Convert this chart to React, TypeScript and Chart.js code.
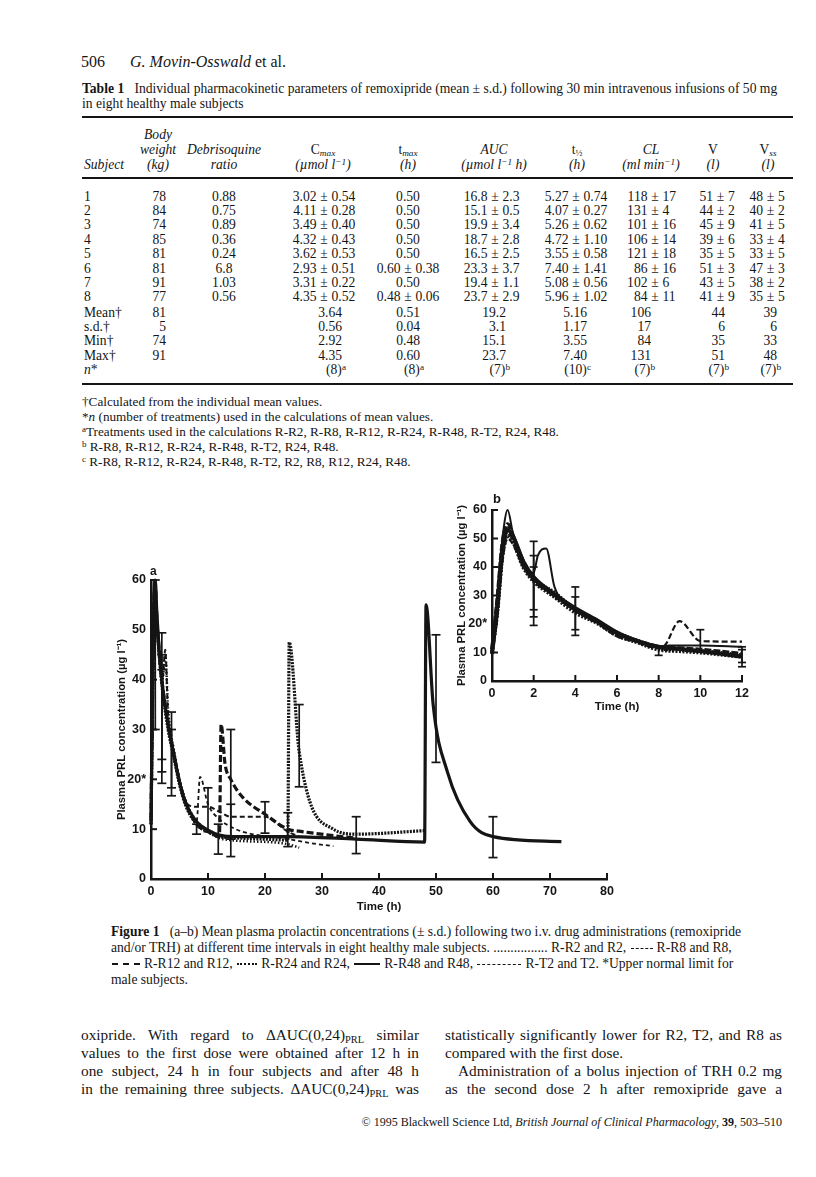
import React, { useEffect, useRef } from "react";
import { Chart, registerables } from "chart.js";

Chart.register(...registerables);

const SERIF = '"Liberation Serif", "Times New Roman", Times, serif';
const SANS = '"Liberation Sans", Arial, Helvetica, sans-serif';
const INK = "#151515";

// ================= Figure 1a (0–72 h) =================
const A_Y_TICKS = [0, 10, 20, 30, 40, 50, 60];
const A_Y_LABELS = ["0", "10", "20*", "30", "40", "50", "60"];
const A_X_TICKS = [0, 10, 20, 30, 40, 50, 60, 70, 80];

const A_R2_T = [0, 0.25, 0.5, 0.75, 1, 1.5, 2, 2.5, 3, 4, 5, 6, 8, 10, 12, 14, 24, 26];
const A_R2_Y = [11, 32, 52, 57, 52, 44, 40, 45, 34, 26, 20, 16, 11.5, 9.5, 8.2, 7.8, 7.0, 6.3];

const A_R8_T = [0, 0.25, 0.5, 0.75, 1, 1.5, 2, 3, 4, 5, 6, 8, 8.6, 10, 12, 14, 16, 24, 28, 32];
const A_R8_Y = [10, 30, 50, 55, 50, 43, 38, 31, 26, 20, 16, 11.5, 20.5, 15, 12, 10.5, 9.5, 8, 7.2, 6.6];

const A_R12_T = [0, 0.25, 0.5, 0.75, 1, 1.5, 2, 3, 4, 5, 6, 8, 10, 12, 12.3, 13, 14, 16, 20, 24, 26, 32, 36];
const A_R12_Y = [12, 35, 55, 59, 53, 45, 39, 31, 25, 19.5, 15.5, 11, 9.5, 8.5, 31, 23, 20, 16.5, 13, 10, 9.6, 8.7, 8.2];

const A_R24_T = [0, 0.25, 0.5, 0.75, 1, 1.5, 2, 3, 4, 5, 6, 8, 10, 12, 14, 20, 24, 24.25, 26, 32, 36, 48];
const A_R24_Y = [11, 33, 53, 58, 52, 44, 38, 30, 24.5, 19, 15, 11, 9.5, 8.5, 8.3, 8, 7.8, 47.5, 25.5, 10, 9, 9.7];

const A_R48_T = [0, 0.25, 0.5, 0.75, 1, 1.5, 2, 3, 4, 5, 6, 8, 10, 12, 14, 24, 36, 48, 48.25, 49.5, 52, 56, 60, 72];
const A_R48_Y = [11, 36, 56, 60, 54, 45, 39, 31, 25, 19.5, 15.5, 11.5, 9.8, 8.8, 8.5, 8.5, 8, 7.4, 55, 35, 21.5, 11.5, 8.5, 7.5];

const A_T2_T = [0, 0.25, 0.5, 0.75, 1, 1.5, 2, 2.5, 3, 4, 5, 6, 8, 10, 12, 14, 20, 24, 26];
const A_T2_Y = [10, 31, 51, 56, 51, 44, 40, 46, 33, 25.5, 20, 15.5, 14.5, 14.5, 13.5, 12.5, 12.5, 9.5, 8.5];

const A_ERR_X = [0.75, 1.9, 1.9, 1.9, 3.6, 3.6, 8, 10, 11.8, 14, 14, 20, 24, 26, 36, 50, 60];
const A_ERR_LO = [30, 19.2, 21.5, 24, 16.7, 18.3, 9, 9.5, 5, 4.5, 8, 9.2, 6.5, 18.5, 5.1, 23.4, 4.3];
const A_ERR_HI = [60, 49.4, 45, 42, 33.5, 30, 11, 18.3, 11, 30, 15, 15.5, 13.3, 35, 12.5, 49, 12.5];

// ================= Figure 1b inset (0–12 h) =================
const B_Y_TICKS = [0, 10, 20, 30, 40, 50, 60];
const B_Y_LABELS = ["0", "10", "20*", "30", "40", "50", "60"];
const B_X_TICKS = [0, 2, 4, 6, 8, 10, 12];

const B_T = [0, 0.25, 0.5, 0.75, 1, 1.5, 2, 3, 4, 5, 6, 7, 8, 9, 10, 12];
const B_R2_Y = [10, 25, 45, 52, 50, 42, 36, 31, 25, 21, 17, 14, 11.5, 11, 10.5, 9];
const B_R12_Y = [11, 28, 48, 55, 51, 41, 36, 30, 25, 21, 16, 14, 12, 11.5, 11, 9.5];
const B_R24_Y = [10, 24, 44, 51, 49, 40, 35, 29.5, 24, 20.5, 16, 13.5, 11, 10.5, 10, 8.5];
const B_R48_Y = [9.5, 26, 46, 53, 51, 42, 36.5, 30.5, 25.5, 21.5, 17, 14, 12, 11.2, 10.5, 8.5];

const B_R8_T = [0, 0.25, 0.5, 0.75, 1, 1.5, 2, 3, 4, 5, 6, 7, 8, 8.3, 9, 10, 12];
const B_R8_Y = [10, 22, 42, 50, 48, 40, 35, 30, 24.5, 20.5, 16.5, 13.5, 11.5, 12.5, 21, 14, 13.8];

const B_T2_T = [0, 0.25, 0.5, 0.75, 1, 1.5, 2, 2.2, 2.6, 3, 4, 5, 6, 7, 8, 8.5, 10, 12];
const B_T2_Y = [10, 30, 50, 60, 52, 40, 38, 44, 46.5, 33, 25, 21, 16.5, 14, 12, 12.5, 12.5, 12];

const B_ERR_X = [2, 2, 2, 4, 4, 8, 10, 12, 12];
const B_ERR_LO = [19.5, 22.5, 25, 16, 18, 9, 10.5, 5, 6.5];
const B_ERR_HI = [49, 44, 40, 33, 29.5, 12, 18, 12, 11];

type Series = { t: number[]; y: number[]; width: number; dash: number[] };

const A_SERIES: Series[] = [
  { t: A_R2_T, y: A_R2_Y, width: 2.5, dash: [1.5, 2] },
  { t: A_R8_T, y: A_R8_Y, width: 1.8, dash: [4, 3] },
  { t: A_R12_T, y: A_R12_Y, width: 3.2, dash: [7, 3] },
  { t: A_R24_T, y: A_R24_Y, width: 3.2, dash: [2, 1.2] },
  { t: A_R48_T, y: A_R48_Y, width: 3.2, dash: [] },
  { t: A_T2_T, y: A_T2_Y, width: 2, dash: [5, 3] },
];

const B_SERIES: Series[] = [
  { t: B_T, y: B_R2_Y, width: 4, dash: [1.5, 1.5] },
  { t: B_R8_T, y: B_R8_Y, width: 2.2, dash: [6, 3] },
  { t: B_T, y: B_R12_Y, width: 4, dash: [7, 2] },
  { t: B_T, y: B_R24_Y, width: 4, dash: [2, 1.5] },
  { t: B_T, y: B_R48_Y, width: 4, dash: [] },
  { t: B_T2_T, y: B_T2_Y, width: 2, dash: [] },
];

const innerTicks = {
  id: "innerTicks",
  afterDraw(chart: any) {
    const { ctx, chartArea, scales } = chart;
    ctx.save();
    ctx.strokeStyle = INK;
    ctx.lineWidth = 2;
    scales.x.ticks.forEach((t: any) => {
      const px = scales.x.getPixelForValue(t.value);
      ctx.beginPath();
      ctx.moveTo(px, chartArea.bottom);
      ctx.lineTo(px, chartArea.bottom - 6);
      ctx.stroke();
    });
    scales.y.ticks.forEach((t: any) => {
      const py = scales.y.getPixelForValue(t.value);
      ctx.beginPath();
      ctx.moveTo(chartArea.left, py);
      ctx.lineTo(chartArea.left + 6, py);
      ctx.stroke();
    });
    ctx.restore();
  },
};

function buildConfig(p: {
  series: Series[];
  errX: number[];
  errLo: number[];
  errHi: number[];
  xTicks: number[];
  yTicks: number[];
  yLabels: string[];
  padTop: number;
  padRight: number;
  yWidth: number;
  xHeight: number;
  capR: number;
}) {
  const tickFont = { family: SANS, size: 12.5, weight: "bold" as const };
  const titleFont = { family: SANS, size: 11.3, weight: "bold" as const };
  const datasets: any[] = [];
  p.series.forEach((s) => {
    datasets.push({
      data: s.t.map((t, i) => ({ x: t, y: s.y[i] })),
      borderColor: INK,
      borderWidth: s.width,
      borderDash: s.dash,
      pointRadius: 0,
      fill: false,
      cubicInterpolationMode: "monotone",
      clip: 4,
    });
  });
  p.errX.forEach((x, i) => {
    datasets.push({
      data: [
        { x, y: p.errLo[i] },
        { x, y: p.errHi[i] },
      ],
      borderColor: INK,
      borderWidth: 1.7,
      pointStyle: "line",
      pointRadius: p.capR,
      pointBorderWidth: 1.7,
      pointBorderColor: INK,
      pointBackgroundColor: INK,
      fill: false,
      clip: 6,
    });
  });
  const xMax = p.xTicks[p.xTicks.length - 1];
  const yMax = p.yTicks[p.yTicks.length - 1];
  return {
    type: "line" as const,
    data: { datasets },
    options: {
      responsive: false,
      animation: false as const,
      layout: { padding: { top: p.padTop, right: p.padRight, left: 0, bottom: 0 } },
      plugins: { legend: { display: false }, tooltip: { enabled: false } },
      scales: {
        x: {
          type: "linear" as const,
          min: 0,
          max: xMax,
          afterBuildTicks: (s: any) => {
            s.ticks = p.xTicks.map((v) => ({ value: v }));
          },
          ticks: { padding: 5, font: tickFont, color: INK, maxRotation: 0 },
          grid: { display: false, drawTicks: false },
          border: { display: true, width: 2.5, color: INK },
          title: { display: true, text: "Time (h)", font: { ...titleFont, size: 11.5 }, color: INK, padding: { top: 0, bottom: 4 } },
          afterFit: (s: any) => {
            s.height = p.xHeight;
          },
        },
        y: {
          type: "linear" as const,
          min: 0,
          max: yMax,
          afterBuildTicks: (s: any) => {
            s.ticks = p.yTicks.map((v) => ({ value: v }));
          },
          ticks: {
            padding: 5,
            font: tickFont,
            color: INK,
            callback: (v: any) => {
              const k = p.yTicks.indexOf(Number(v));
              return k >= 0 ? p.yLabels[k] : String(v);
            },
          },
          grid: { display: false, drawTicks: false },
          border: { display: true, width: 2.5, color: INK },
          title: {
            display: true,
            text: "Plasma PRL concentration (\u00b5g l\u207b\u00b9)",
            font: titleFont,
            color: INK,
            padding: { top: 3, bottom: 0 },
          },
          afterFit: (s: any) => {
            s.width = p.yWidth;
          },
        },
      },
    },
    plugins: [innerTicks],
  };
}

function ChartA() {
  const ref = useRef<HTMLCanvasElement>(null);
  useEffect(() => {
    const chart = new Chart(
      ref.current as HTMLCanvasElement,
      buildConfig({
        series: A_SERIES,
        errX: A_ERR_X,
        errLo: A_ERR_LO,
        errHi: A_ERR_HI,
        xTicks: A_X_TICKS,
        yTicks: A_Y_TICKS,
        yLabels: A_Y_LABELS,
        padTop: 14,
        padRight: 15,
        yWidth: 39,
        xHeight: 39,
        capR: 4.5,
      }) as any
    );
    return () => chart.destroy();
  }, []);
  return (
    <canvas
      ref={ref}
      width={510}
      height={352}
      style={{ position: "absolute", left: 112, top: 566, width: 510, height: 352 }}
    />
  );
}

function ChartB() {
  const ref = useRef<HTMLCanvasElement>(null);
  useEffect(() => {
    const chart = new Chart(
      ref.current as HTMLCanvasElement,
      buildConfig({
        series: B_SERIES,
        errX: B_ERR_X,
        errLo: B_ERR_LO,
        errHi: B_ERR_HI,
        xTicks: B_X_TICKS,
        yTicks: B_Y_TICKS,
        yLabels: B_Y_LABELS,
        padTop: 18,
        padRight: 15,
        yWidth: 40,
        xHeight: 37,
        capR: 4,
      }) as any
    );
    return () => chart.destroy();
  }, []);
  return (
    <canvas
      ref={ref}
      width={305}
      height={226}
      style={{ position: "absolute", left: 452, top: 492, width: 305, height: 226 }}
    />
  );
}

// ================= page text helpers =================
function T(props: {
  x: number;
  y: number;
  size?: number;
  a?: "l" | "c" | "r";
  w?: number;
  style?: React.CSSProperties;
  children: React.ReactNode;
}) {
  const size = props.size ?? 13;
  const a = props.a ?? "l";
  const w = props.w ?? 300;
  const left = a === "l" ? props.x : a === "c" ? props.x - w / 2 : props.x - w;
  return (
    <div
      style={{
        position: "absolute",
        left,
        top: props.y - size * 0.62,
        width: w,
        fontSize: size,
        lineHeight: `${size * 1.2}px`,
        textAlign: a === "l" ? "left" : a === "c" ? "center" : "right",
        whiteSpace: "nowrap",
        ...props.style,
      }}
    >
      {props.children}
    </div>
  );
}

function J(props: { x: number; y: number; w: number; size: number; last?: boolean; indent?: number; children: React.ReactNode }) {
  return (
    <div
      style={{
        position: "absolute",
        left: props.x,
        top: props.y - props.size * 0.62,
        width: props.w,
        fontSize: props.size,
        lineHeight: `${props.size * 1.2}px`,
        textAlign: "justify",
        textAlignLast: props.last === false ? "left" : "justify",
        textIndent: props.indent ?? 0,
      }}
    >
      {props.children}
    </div>
  );
}

const Sub = ({ children, it }: { children: React.ReactNode; it?: boolean }) => (
  <sub style={{ fontSize: "0.68em", fontStyle: it ? "italic" : "normal", verticalAlign: "-0.25em", lineHeight: 0 }}>{children}</sub>
);
const Sup = ({ children }: { children: React.ReactNode }) => (
  <sup style={{ fontSize: "0.68em", verticalAlign: "0.45em", lineHeight: 0 }}>{children}</sup>
);

// ================= Table 1 =================
const TABLE_ROWS = [
  ["1", "78", "0.88", "3.02 ± 0.54", "0.50", "16.8 ± 2.3", "5.27 ± 0.74", "118 ± 17", "51 ± 7", "48 ± 5"],
  ["2", "84", "0.75", "4.11 ± 0.28", "0.50", "15.1 ± 0.5", "4.07 ± 0.27", "131 ± 4", "44 ± 2", "40 ± 2"],
  ["3", "74", "0.89", "3.49 ± 0.40", "0.50", "19.9 ± 3.4", "5.26 ± 0.62", "101 ± 16", "45 ± 9", "41 ± 5"],
  ["4", "85", "0.36", "4.32 ± 0.43", "0.50", "18.7 ± 2.8", "4.72 ± 1.10", "106 ± 14", "39 ± 6", "33 ± 4"],
  ["5", "81", "0.24", "3.62 ± 0.53", "0.50", "16.5 ± 2.5", "3.55 ± 0.58", "121 ± 18", "35 ± 5", "33 ± 5"],
  ["6", "81", "6.8", "2.93 ± 0.51", "0.60 ± 0.38", "23.3 ± 3.7", "7.40 ± 1.41", "86 ± 16", "51 ± 3", "47 ± 3"],
  ["7", "91", "1.03", "3.31 ± 0.22", "0.50", "19.4 ± 1.1", "5.08 ± 0.56", "102 ± 6", "43 ± 5", "38 ± 2"],
  ["8", "77", "0.56", "4.35 ± 0.52", "0.48 ± 0.06", "23.7 ± 2.9", "5.96 ± 1.02", "84 ± 11", "41 ± 9", "35 ± 5"],
];
const SUMMARY_LABELS = ["Mean†", "s.d.†", "Min†", "Max†"];
const SUMMARY_ROWS = [
  ["81", "", "3.64", "0.51", "19.2", "5.16", "106", "44", "39"],
  ["5", "", "0.56", "0.04", "3.1", "1.17", "17", "6", "6"],
  ["74", "", "2.92", "0.48", "15.1", "3.55", "84", "35", "33"],
  ["91", "", "4.35", "0.60", "23.7", "7.40", "131", "51", "48"],
];
const N_ROW: [string, string][] = [
  ["", ""],
  ["", ""],
  ["(8)", "a"],
  ["(8)", "a"],
  ["(7)", "b"],
  ["(10)", "c"],
  ["(7)", "b"],
  ["(7)", "b"],
  ["(7)", "b"],
];

const COL_X = [84, 166, 224, 324, 408, 495, 576, 655, 720.5, 770.5];
const COL_A: ("l" | "r" | "c")[] = ["l", "r", "c", "c", "c", "c", "c", "c", "c", "c"];
const SUM_RIGHT = [166, 0, 342, 420, 506, 587, 651, 725, 777];

const ROW_Y0 = 197;
const ROW_DY = 14.4;
const SUM_Y0 = 313;
const TS = 13.6; // table font size

function DataCell({ v, col, y }: { v: string; col: number; y: number }) {
  const x = COL_X[col];
  if (v.includes("±")) {
    const [l, r] = v.split("±").map((s) => s.trim());
    return (
      <>
        <T x={x - 7.5} y={y} a="r" w={60} size={TS}>
          {l}
        </T>
        <T x={x} y={y} a="c" w={20} size={TS}>
          ±
        </T>
        <T x={x + 7.5} y={y} a="l" w={60} size={TS}>
          {r}
        </T>
      </>
    );
  }
  return (
    <T x={x} y={y} a={COL_A[col]} w={80} size={TS}>
      {v}
    </T>
  );
}

function Table1() {
  const it: React.CSSProperties = { fontStyle: "italic" };
  const hy1 = 135;
  const hy2 = 150;
  const hy3 = 165;
  const rule = (y: number, h: number) => (
    <div style={{ position: "absolute", left: 82, width: 711, top: y, height: h, background: INK }} />
  );
  return (
    <>
      {rule(116, 2)}
      <T x={158} y={hy1} a="c" w={80} size={TS} style={it}>Body</T>
      <T x={158} y={hy2} a="c" w={80} size={TS} style={it}>weight</T>
      <T x={224} y={hy2} a="c" w={100} size={TS} style={it}>Debrisoquine</T>
      <T x={323} y={hy2} a="c" w={100} size={TS}>C<Sub it>max</Sub></T>
      <T x={408} y={hy2} a="c" w={80} size={TS}>t<Sub it>max</Sub></T>
      <T x={494} y={hy2} a="c" w={100} size={TS} style={it}>AUC</T>
      <T x={577} y={hy2} a="c" w={80} size={TS}>t<Sub>½</Sub></T>
      <T x={651} y={hy2} a="c" w={100} size={TS} style={it}>CL</T>
      <T x={713} y={hy2} a="c" w={60} size={TS}>V</T>
      <T x={768} y={hy2} a="c" w={60} size={TS}>V<Sub it>ss</Sub></T>

      <T x={84} y={hy3} size={TS} style={it}>Subject</T>
      <T x={158} y={hy3} a="c" w={80} size={TS} style={it}>(kg)</T>
      <T x={224} y={hy3} a="c" w={100} size={TS} style={it}>ratio</T>
      <T x={323} y={hy3} a="c" w={100} size={TS} style={it}>(µmol l<Sup>−1</Sup>)</T>
      <T x={408} y={hy3} a="c" w={80} size={TS} style={it}>(h)</T>
      <T x={494} y={hy3} a="c" w={120} size={TS} style={it}>(µmol l<Sup>−1</Sup> h)</T>
      <T x={577} y={hy3} a="c" w={80} size={TS} style={it}>(h)</T>
      <T x={651} y={hy3} a="c" w={120} size={TS} style={it}>(ml min<Sup>−1</Sup>)</T>
      <T x={713} y={hy3} a="c" w={60} size={TS} style={it}>(l)</T>
      <T x={768} y={hy3} a="c" w={60} size={TS} style={it}>(l)</T>
      {rule(177, 2)}

      {TABLE_ROWS.map((row, r) => (
        <React.Fragment key={r}>
          {row.map((v, c) => (
            <DataCell key={c} v={v} col={c} y={ROW_Y0 + r * ROW_DY} />
          ))}
        </React.Fragment>
      ))}

      {SUMMARY_ROWS.map((row, r) => {
        const y = SUM_Y0 + r * ROW_DY;
        return (
          <React.Fragment key={"s" + r}>
            <T x={84} y={y} size={TS}>{SUMMARY_LABELS[r]}</T>
            {row.map((v, c) =>
              v ? (
                <T key={c} x={SUM_RIGHT[c]} y={y} a="r" w={60} size={TS}>
                  {v}
                </T>
              ) : null
            )}
          </React.Fragment>
        );
      })}
      {(() => {
        const y = SUM_Y0 + 4 * ROW_DY;
        return (
          <>
            <T x={84} y={y} size={TS}>
              <i>n</i>*
            </T>
            {N_ROW.map(([v, s], c) =>
              v ? (
                <T key={c} x={SUM_RIGHT[c] + 4} y={y} a="r" w={60} size={TS}>
                  {v}
                  <Sup>{s}</Sup>
                </T>
              ) : null
            )}
          </>
        );
      })()}
      {rule(383, 2)}
    </>
  );
}

const Line = ({ w, b, s }: { w: number; b: number; s: string }) => (
  <span
    style={{
      display: "inline-block",
      width: w,
      height: 0,
      borderTop: `${b}px ${s} ${INK}`,
      verticalAlign: "middle",
      margin: "0 4px 0 1px",
    }}
  />
);

export default function App() {
  const FS = 13.2; // footnote size
  const CS = 13.6; // caption size
  const BS = 15.3; // body size
  return (
    <div
      style={{
        position: "absolute",
        left: 0,
        top: 0,
        width: 816,
        height: 1177,
        background: "#fff",
        overflow: "hidden",
        fontFamily: SERIF,
        color: INK,
      }}
    >
      {/* running head */}
      <T x={81} y={62} size={16}>506</T>
      <T x={130} y={62} size={16}>
        <i>G. Movin-Osswald</i> et al.
      </T>

      {/* table caption */}
      <T x={82} y={89} size={CS} w={720}>
        <b>Table 1</b>&nbsp;&nbsp;&nbsp;Individual pharmacokinetic parameters of remoxipride (mean ± s.d.) following 30 min intravenous infusions of 50 mg
      </T>
      <T x={82} y={104} size={CS} w={720}>
        in eight healthy male subjects
      </T>

      <Table1 />

      {/* footnotes */}
      <T x={82} y={402} size={FS} w={700}>†Calculated from the individual mean values.</T>
      <T x={82} y={417} size={FS} w={700}>
        *<i>n</i> (number of treatments) used in the calculations of mean values.
      </T>
      <T x={82} y={432} size={FS} w={700}>
        <Sup>a</Sup>Treatments used in the calculations R-R2, R-R8, R-R12, R-R24, R-R48, R-T2, R24, R48.
      </T>
      <T x={82} y={447} size={FS} w={700}>
        <Sup>b</Sup> R-R8, R-R12, R-R24, R-R48, R-T2, R24, R48.
      </T>
      <T x={82} y={462} size={FS} w={700}>
        <Sup>c</Sup> R-R8, R-R12, R-R24, R-R48, R-T2, R2, R8, R12, R24, R48.
      </T>

      {/* figure */}
      <ChartA />
      <ChartB />
      <T x={150} y={571} size={12} style={{ fontFamily: SANS, fontWeight: "bold" }}>a</T>
      <T x={493} y={499} size={13} style={{ fontFamily: SANS, fontWeight: "bold" }}>b</T>

      {/* figure caption */}
      <T x={111} y={932} size={CS} w={700}>
        <b>Figure 1</b>&nbsp;&nbsp;&nbsp;(a–b) Mean plasma prolactin concentrations (± s.d.) following two i.v. drug administrations (remoxipride
      </T>
      <T x={111} y={948} size={CS} w={700}>
        and/or TRH) at different time intervals in eight healthy male subjects. ................ R-R2 and R2,{" "}
        <Line w={22} b={1} s="dashed" />R-R8 and R8,
      </T>
      <T x={111} y={964} size={CS} w={700}>
        <Line w={28} b={2.5} s="dashed" />R-R12 and R12, <Line w={20} b={2} s="dotted" />R-R24 and R24,{" "}
        <Line w={26} b={2.5} s="solid" />R-R48 and R48, <Line w={44} b={1} s="dashed" />R-T2 and T2. *Upper normal limit for
      </T>
      <T x={111} y={980} size={CS} w={700}>
        male subjects.
      </T>

      {/* body text */}
      <J x={81} y={1035} w={338} size={BS}>
        oxipride. With regard to ΔAUC(0,24)<Sub>PRL</Sub> similar
      </J>
      <J x={81} y={1053} w={338} size={BS}>
        values to the first dose were obtained after 12 h in
      </J>
      <J x={81} y={1071} w={338} size={BS}>
        one subject, 24 h in four subjects and after 48 h
      </J>
      <J x={81} y={1089} w={338} size={BS}>
        in the remaining three subjects. ΔAUC(0,24)<Sub>PRL</Sub> was
      </J>
      <J x={445} y={1035} w={337} size={BS}>
        statistically significantly lower for R2, T2, and R8 as
      </J>
      <J x={445} y={1053} w={337} size={BS} last={false}>
        compared with the first dose.
      </J>
      <J x={445} y={1071} w={337} size={BS} indent={13}>
        Administration of a bolus injection of TRH 0.2 mg
      </J>
      <J x={445} y={1089} w={337} size={BS}>
        as the second dose 2 h after remoxipride gave a
      </J>

      {/* footer */}
      <T x={782} y={1122} a="r" w={500} size={12}>
        © 1995 Blackwell Science Ltd, <i>British Journal of Clinical Pharmacology</i>, <b>39</b>, 503–510
      </T>
    </div>
  );
}
